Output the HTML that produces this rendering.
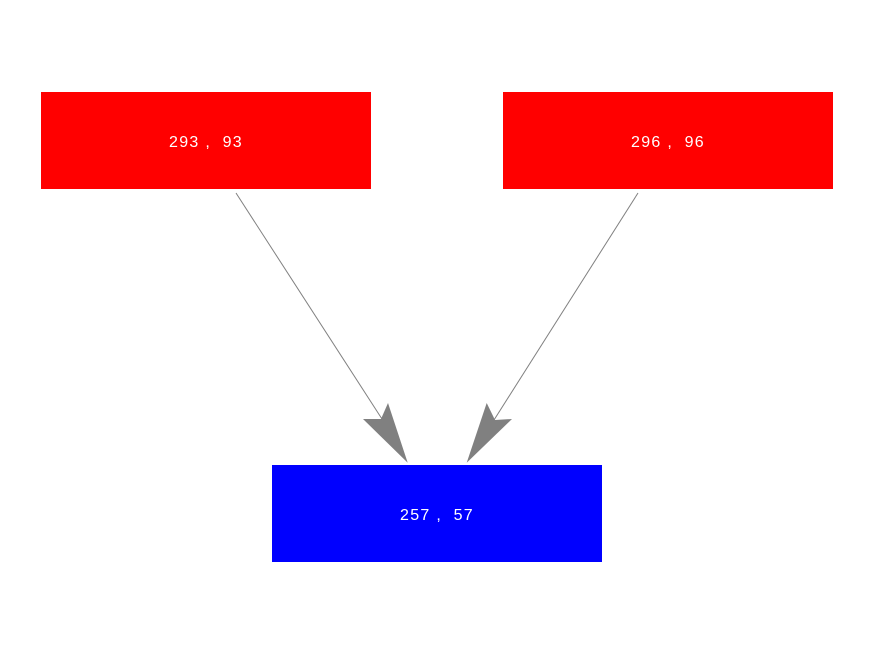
<!DOCTYPE html>
<html><head><style>
body{margin:0;width:876px;height:656px;background:#fff;position:relative;overflow:hidden;font-family:"Liberation Sans",sans-serif}
.b{position:absolute;color:#fff;font-size:16px;letter-spacing:1.3px;display:flex;align-items:center;justify-content:center;white-space:pre;padding-top:4px;box-sizing:border-box}
</style></head><body>
<div class="b" style="left:41px;top:92px;width:330px;height:97px;background:#f00">293 ,  93</div>
<div class="b" style="left:503px;top:92px;width:330px;height:97px;background:#f00">296 ,  96</div>
<div class="b" style="left:272px;top:465px;width:330px;height:97px;background:#00f">257 ,  57</div>
<svg width="876" height="656" style="position:absolute;left:0;top:0">
<line x1="236" y1="193" x2="382" y2="419" stroke="#808080" stroke-width="1"/>
<line x1="638" y1="193" x2="494" y2="420" stroke="#808080" stroke-width="1"/>
<polygon points="407.7,462.7 363,419 381,419 388,403" fill="#808080"/>
<polygon points="466.7,462.7 486.7,403 495,420 512,419" fill="#808080"/>
</svg>
</body></html>
